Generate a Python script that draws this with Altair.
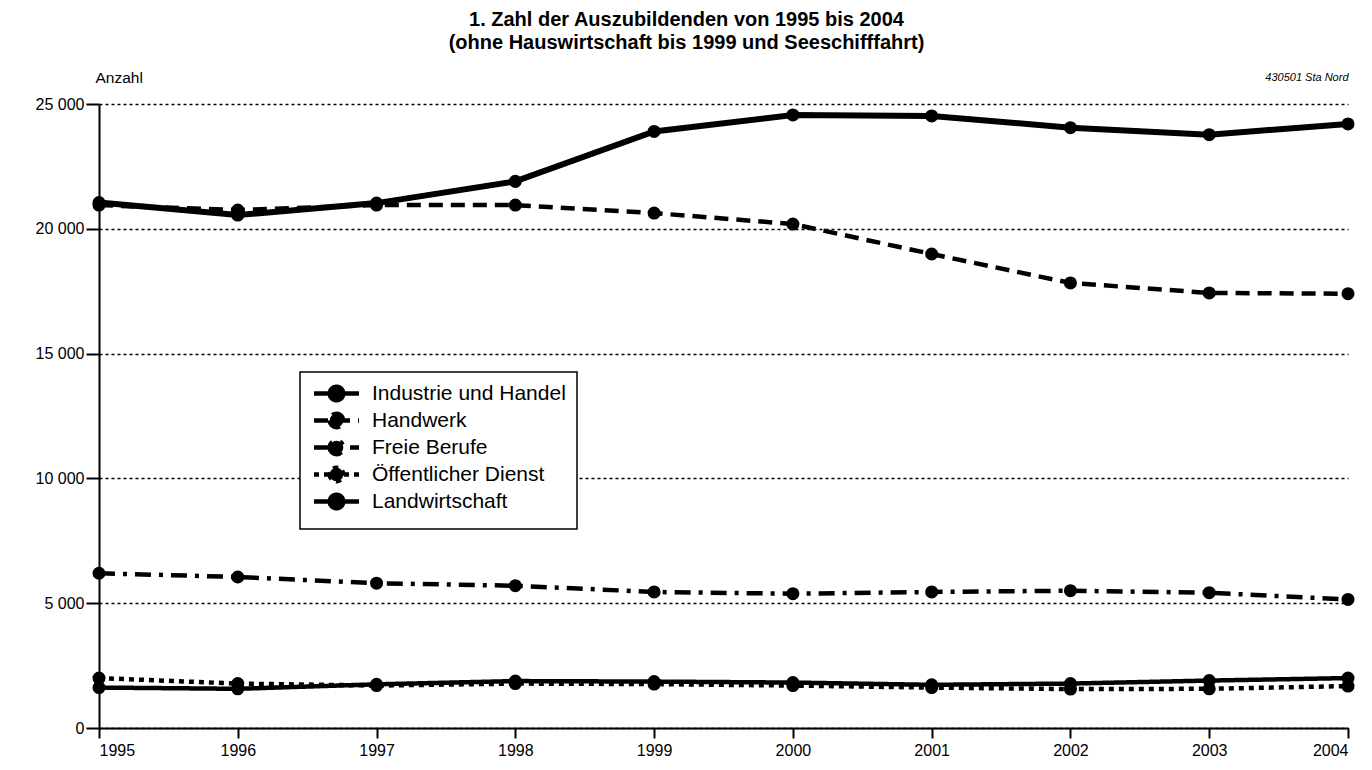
import altair as alt
import pandas as pd

years = [1995, 1996, 1997, 1998, 1999, 2000, 2001, 2002, 2003, 2004]
series_names = ["Industrie und Handel", "Handwerk", "Freie Berufe",
                "Öffentlicher Dienst", "Landwirtschaft"]
industrie = [21050, 20550, 21030, 21900, 23900, 24560, 24520, 24050, 23770, 24200]
handwerk = [20950, 20750, 20950, 20950, 20630, 20190, 18990, 17830, 17430, 17400]
freie = [6200, 6050, 5800, 5700, 5450, 5380, 5450, 5500, 5420, 5150]
oeff = [2000, 1780, 1700, 1780, 1760, 1700, 1620, 1560, 1570, 1680]
landw = [1620, 1570, 1750, 1880, 1860, 1820, 1730, 1780, 1900, 2000]
y_ticks = [0, 5000, 10000, 15000, 20000, 25000]

rows = []
for name, vals in zip(series_names, [industrie, handwerk, freie, oeff, landw]):
    for yr, v in zip(years, vals):
        rows.append({"Jahr": yr, "Bereich": name, "Anzahl": v})
df = pd.DataFrame(rows)

FONT = "Liberation Sans"
dash_range = [[1, 0], [14, 8], [16, 8, 4, 8], [5, 5], [1, 0]]
legend_path = "M-1,0H5M1.1,0A0.9,0.9 0 1,0 2.9,0A0.9,0.9 0 1,0 1.1,0Z"

x_enc = alt.X(
    "Jahr:Q",
    scale=alt.Scale(domain=[1995, 2004], nice=False, zero=False),
    axis=alt.Axis(values=years, format="d", grid=False,
                  title="430501 Sta Nord", titleX=1249, titleY=-651,
                  titleAlign="right", titleBaseline="middle",
                  titleFontStyle="italic", titleFontWeight="normal",
                  titleFontSize=11, titleFont=FONT,
                  labelFont=FONT, labelFontSize=16, labelColor="black",
                  tickSize=10, tickWidth=2, tickColor="black",
                  domainWidth=2, domainColor="black", labelPadding=4),
)
y_enc = alt.Y(
    "Anzahl:Q",
    scale=alt.Scale(domain=[0, 25000], nice=False),
    axis=alt.Axis(values=y_ticks,
                  labelExpr="replace(format(datum.value, ','), ',', ' ')",
                  grid=True, gridDash=[3, 3], gridColor="black",
                  gridWidth=1.5, gridOpacity=1,
                  title="Anzahl", titleAngle=0, titleX=-4, titleY=-27,
                  titleAlign="left", titleBaseline="middle",
                  titleFontSize=15.5, titleFontWeight="normal", titleFont=FONT,
                  labelFont=FONT, labelFontSize=16, labelColor="black",
                  tickSize=13, tickWidth=2, tickColor="black",
                  domainWidth=2, domainColor="black", labelPadding=2),
)

base = alt.Chart(df)

lines = base.mark_line(color="black", strokeCap="butt", strokeWidth=4.5).encode(
    x=x_enc,
    y=y_enc,
    strokeDash=alt.StrokeDash(
        "Bereich:N",
        scale=alt.Scale(domain=series_names, range=dash_range),
        legend=alt.Legend(
            orient="none", legendX=201, legendY=268, title=None,
            symbolType=legend_path, symbolSize=225,
            symbolFillColor="black", symbolStrokeColor="black",
            symbolStrokeWidth=4.5, labelFont=FONT, labelFontSize=21,
            labelColor="black", labelOffset=40, rowPadding=-6.5,
            padding=11, strokeColor="black", fillColor="white",
            labelLimit=400,
        ),
    ),
)

industrie_line = base.mark_line(color="black", strokeWidth=6).encode(
    x=x_enc, y=y_enc,
).transform_filter(alt.datum.Bereich == series_names[0])

points = base.mark_point(filled=True, color="black", size=170, opacity=1).encode(
    x=x_enc, y=y_enc, detail="Bereich:N",
)

chart = alt.layer(lines, industrie_line, points).properties(
    width=1249, height=624,
    autosize="none",
    padding={"left": 91, "top": 96, "right": 16, "bottom": 40},
    title=alt.TitleParams(
        ["1. Zahl der Auszubildenden von 1995 bis 2004",
         "(ohne Hauswirtschaft bis 1999 und Seeschifffahrt)"],
        font=FONT, fontSize=20, fontWeight="bold", color="black",
        anchor="middle", dx=-37, dy=23, lineHeight=23, baseline="bottom",
        offset=20,
    ),
).configure_view(stroke=None).configure_legend(
    strokeWidth=1.5,
)

chart.save("out.html", embed_options={"renderer": "svg", "actions": False})
